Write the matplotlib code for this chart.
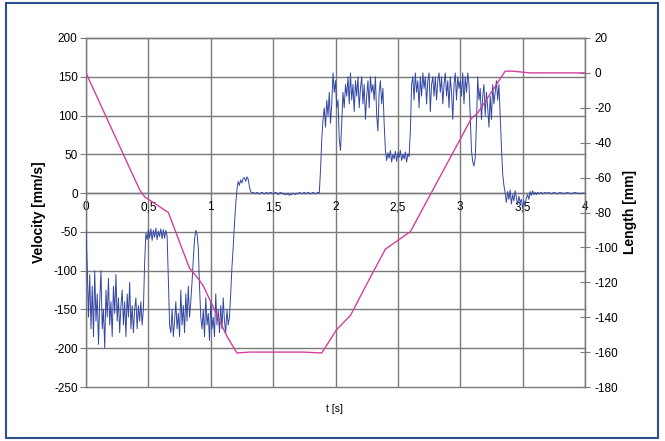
import numpy as np
import matplotlib
matplotlib.use("Agg")
import matplotlib.pyplot as plt
from matplotlib.patches import Rectangle

plt.rcParams['font.family'] = ['Liberation Sans', 'DejaVu Sans']
plt.rcParams['axes.unicode_minus'] = False

# ---- data ----
dt = 0.01
velocity = [
    -48, -95, -160, -105, -175, -120, -185, -100, -165, -130,
    -195, -140, -100, -175, -150, -200, -125, -160, -110, -170,
    -140, -185, -120, -155, -105, -165, -135, -180, -145, -125,
    -170, -140, -185, -130, -160, -115, -175, -145, -180, -150,
    -135, -175, -145, -165, -140, -170, -150, -90, -52, -60,
    -47, -58, -46, -61, -48, -57, -45, -60, -49, -56,
    -46, -59, -47, -58, -48, -55, -110, -170, -180, -150,
    -185, -165, -140, -175, -155, -185, -125, -170, -145, -180,
    -130, -165, -120, -160, -140, -115, -85, -60, -48, -52,
    -70, -120, -160, -175, -150, -185, -135, -170, -155, -190,
    -140, -175, -160, -185, -130, -170, -150, -180, -145, -175,
    -135, -165, -180, -150, -170, -160, -130, -95, -70, -40,
    -15, 5, 15, 10, 17, 13, 19, 20, 15, 21,
    18, 8, 2, 0, 1, 0, -1, 1, 0, -1,
    0, 1, 0, -1, 0, 1, -1, 0, 1, 0,
    -1, 0, 1, 0, -2, 0, 1, -1, 0, -2,
    -1, -2, 0, -3, -1, -2, 0, -1, -2, 0,
    -1, 1, 0, -1, 0, 1, -1, 0, 1, 0,
    -1, 0, 1, 0, -1, 0, 1, 0, 30, 70,
    95, 110, 85, 120, 100, 130, 90, 115, 155, 130,
    145, 110, 120, 70, 55, 90, 130, 110, 140, 125,
    150, 115, 155, 120, 140, 105, 145, 125, 150, 110,
    135, 150, 115, 140, 95, 125, 145, 110, 150, 130,
    140, 120, 150, 100, 80, 130, 145, 115, 135, 90,
    55, 42, 52, 45, 55, 40, 50, 44, 54, 41,
    52, 46, 55, 42, 50, 44, 53, 40, 51, 47,
    80, 140, 150, 120, 155, 130, 145, 110, 150, 125,
    155, 135, 150, 115, 145, 155, 105, 140, 150, 125,
    150, 120, 145, 155, 130, 150, 115, 140, 155, 125,
    145, 110, 150, 130, 95, 140, 155, 120, 150, 135,
    145, 125, 155, 115, 150, 130, 155, 140, 100, 55,
    40, 35, 45, 90, 150, 120, 135, 95, 125, 140,
    100, 130, 110, 85, 125, 95, 140, 115, 130, 145,
    120, 140, 100, 60, 25, 10, 0, -12, 2, -8,
    4, -14, -2, -10, 3, -6, -15, -4, -12, -8,
    -20, -10, -15, -6, -2, -8, 2, -3, 3, -2,
    1, -2, 1, -1, 0, 1, -1, 0, 1, 0,
    0, 1, 0, -1, 0, 1, 0, 0, -1, 0,
    1, 0, 0, -1, 0, 0, 1, 0, 0, -1,
    0, 0, 1, 0, 0, 0, -1, 0, 0, 0,
    0,
]
t_velocity = np.arange(len(velocity)) * dt

t_length = [0.0, 0.43, 0.47, 0.66, 0.83, 0.89, 0.94, 1.13, 1.21, 1.31, 1.74,
            1.89, 2.01, 2.12, 2.28, 2.40, 2.52, 2.60, 3.09, 3.14, 3.36, 3.42,
            3.56, 4.0]
length = [0, -67, -71, -80, -112, -117, -122, -151, -160.5, -160, -160,
          -160.5, -147, -139, -117, -101, -95, -91, -26, -23, 1, 1, 0, 0]

x_ticks = [0, 0.5, 1, 1.5, 2, 2.5, 3, 3.5, 4]
x_labels = ["0", "0,5", "1", "1,5", "2", "2,5", "3", "3,5", "4"]
v_ticks = [-250, -200, -150, -100, -50, 0, 50, 100, 150, 200]
l_ticks = [-180, -160, -140, -120, -100, -80, -60, -40, -20, 0, 20]

# ---- figure ----
W, H = 665, 441
fig = plt.figure(figsize=(W / 100, H / 100), dpi=100)
fig.patch.set_facecolor("white")

x0, x1, y0, y1 = 86, 585, 38, 387
ax = fig.add_axes([x0 / W, 1 - y1 / H, (x1 - x0) / W, (y1 - y0) / H])

grid_c = "#7a7a7a"
ax.set_xlim(0, 4)
ax.set_ylim(-250, 200)
ax.set_yticks(v_ticks)
ax.set_xticks(x_ticks)
ax.set_xticklabels(x_labels)
ax.grid(True, color=grid_c, linewidth=1.0)
ax.set_axisbelow(True)
for gl in ax.get_ygridlines() + ax.get_xgridlines():
    gl.set_clip_on(False)

ax.spines['bottom'].set_position(('data', 0))
for s in ['bottom', 'left', 'top', 'right']:
    ax.spines[s].set_color(grid_c)
    ax.spines[s].set_linewidth(1.0)
ax.tick_params(axis='y', direction='out', length=4, color=grid_c,
               labelsize=8.5, pad=2)
ax.tick_params(axis='x', direction='out', length=0, labelsize=8.5, pad=6)

ax.plot(t_velocity, velocity, color="#3347a3", linewidth=0.7, zorder=3)

ax.set_ylabel("Velocity [mm/s]", fontsize=10, fontweight='bold', labelpad=6)

ax2 = ax.twinx()
ax2.set_ylim(-180, 20)
ax2.set_yticks(l_ticks)
ax2.tick_params(axis='y', direction='inout', length=7, color=grid_c,
                labelsize=8.5, pad=3)
for s in ['bottom', 'left', 'top', 'right']:
    ax2.spines[s].set_visible(False)
ax2.spines['right'].set_visible(True)
ax2.spines['right'].set_color(grid_c)
ax2.plot(t_length, length, color="#d43f9c", linewidth=1.0, zorder=4)
ax2.set_ylabel("Length [mm]", fontsize=10, fontweight='bold', labelpad=4)

fig.text(335 / W, 1 - 409 / H, "t [s]", fontsize=7.5, ha='center', va='center')

# frame
fig.patches.append(Rectangle((6 / W, 1 - 438 / H), (658 - 6) / W, (438 - 3) / H,
                             transform=fig.transFigure, fill=False,
                             edgecolor="#2d4f8e", linewidth=1.5))

fig.savefig("out.png", dpi=100)
